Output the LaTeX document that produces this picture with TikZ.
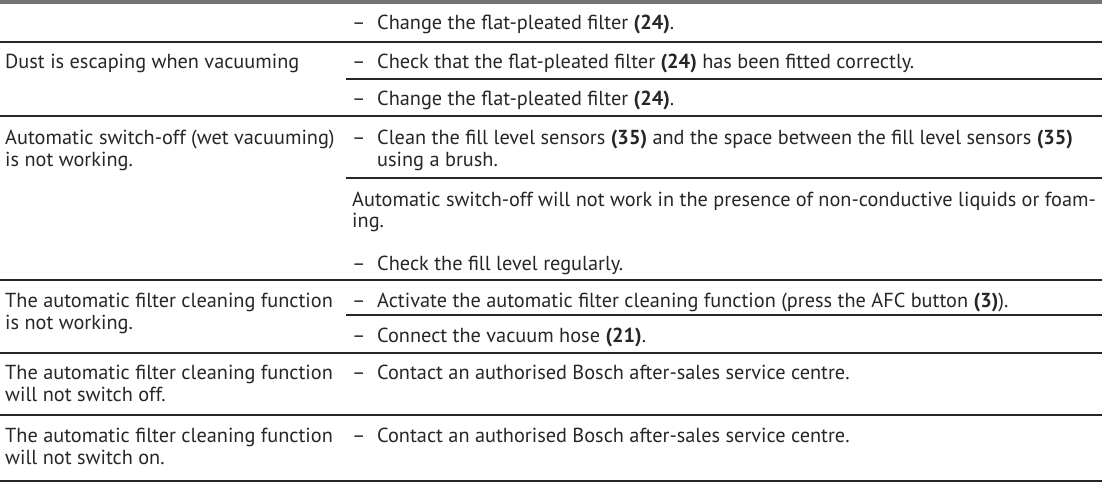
\documentclass[tikz,border=0pt]{standalone}
\usepackage{fontspec}
\setmainfont{PT Sans}
\begin{document}
\begin{tikzpicture}[x=1pt,y=-1pt,
  t/.style={anchor=base west,inner sep=0pt,font=\fontsize{20.3}{24}\selectfont,text=black!85},
  rl/.style={line width=1.3pt,black!85}]
\useasboundingbox (0,0) rectangle (1102,482);
\fill[black!55] (0,0) rectangle (1102,3.5);
% lines
\coordinate (l0) at (346,79); \coordinate (r0) at (1102,79); \draw[rl] (l0)--(r0);
\coordinate (l1) at (0,116); \coordinate (r1) at (1102,116); \draw[rl] (l1)--(r1);
\coordinate (l2) at (346,178); \coordinate (r2) at (1102,178); \draw[rl] (l2)--(r2);
\coordinate (l3) at (0,280); \coordinate (r3) at (1102,280); \draw[rl] (l3)--(r3);
\coordinate (l4) at (346,315); \coordinate (r4) at (1102,315); \draw[rl] (l4)--(r4);
\coordinate (l5) at (0,353); \coordinate (r5) at (1102,353); \draw[rl] (l5)--(r5);
\coordinate (l6) at (0,415); \coordinate (r6) at (1102,415); \draw[rl] (l6)--(r6);
\coordinate (l7) at (0,42); \coordinate (r7) at (1102,42); \draw[rl] (l7)--(r7);
\coordinate (l8) at (0,481); \coordinate (r8) at (1102,481); \draw[rl] (l8)--(r8);
% left column
\node[t] (a1) at (5,68) {Dust is escaping when vacuuming};
\node[t] (a2) at (5,144) {Automatic switch-off (wet vacuuming)};
\node[t] (a3) at (5,166) {is not working.};
\node[t] (a4) at (5,307) {The automatic filter cleaning function};
\node[t] (a5) at (5,329) {is not working.};
\node[t] (a6) at (5,379) {The automatic filter cleaning function};
\node[t] (a7) at (5,401) {will not switch off.};
\node[t] (a8) at (5,442) {The automatic filter cleaning function};
\node[t] (a9) at (5,464) {will not switch on.};
% dashes
\foreach \n/\y in {d1/29,d2/68,d3/105,d4/144,d5/270,d6/307,d7/342,d8/379,d9/442}
  \node[t] (\n) at (352,\y) {–};
% right column
\node[t] (b1) at (377,29) {Change the flat-pleated filter \textbf{(24)}.};
\node[t] (b2) at (377,68) {Check that the flat-pleated filter \textbf{(24)} has been fitted correctly.};
\node[t] (b3) at (377,105) {Change the flat-pleated filter \textbf{(24)}.};
\node[t] (b4) at (377,144) {Clean the fill level sensors \textbf{(35)} and the space between the fill level sensors \textbf{(35)}};
\node[t] (b5) at (377,166) {using a brush.};
\node[t] (b6) at (352,206) {Automatic switch-off will not work in the presence of non-conductive liquids or foam-};
\node[t] (b7) at (352,227) {ing.};
\node[t] (b8) at (377,270) {Check the fill level regularly.};
\node[t] (b9) at (377,307) {Activate the automatic filter cleaning function (press the AFC button \textbf{(3)}).};
\node[t] (b10) at (377,342) {Connect the vacuum hose \textbf{(21)}.};
\node[t] (b11) at (377,379) {Contact an authorised Bosch after-sales service centre.};
\node[t] (b12) at (377,442) {Contact an authorised Bosch after-sales service centre.};
\end{tikzpicture}
\end{document}
